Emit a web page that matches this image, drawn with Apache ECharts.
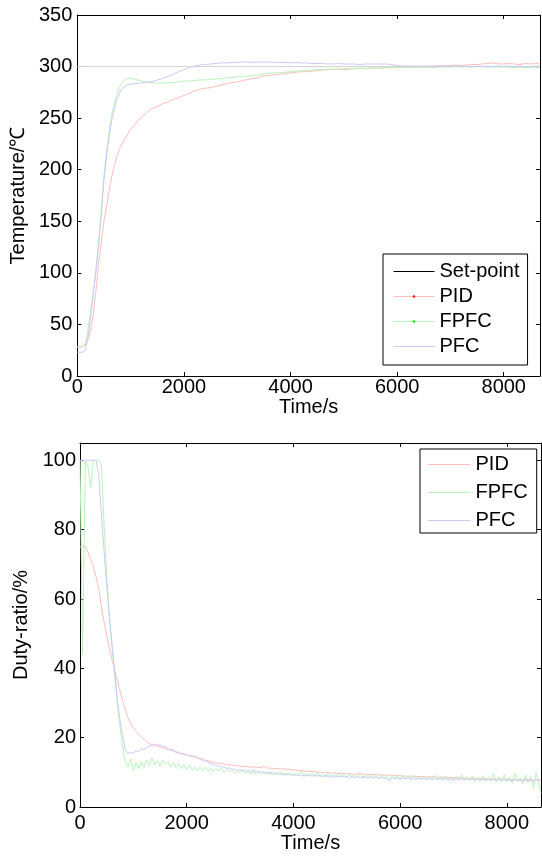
<!DOCTYPE html>
<html>
<head>
<meta charset="utf-8">
<script src="https://cdn.jsdelivr.net/npm/echarts@6/dist/echarts.min.js"></script>
<style>
html,body{margin:0;padding:0;background:#fff;}
#c{width:542px;height:857px;}
</style>
</head>
<body>
<div id="c"></div>
<script>
// ---------- Top plot: temperature (°C) vs time (s) ----------
const tTime = [0,50,100,150,200,250,300,350,400,450,500,550,600,650,700,750,800,850,900,950,1000,
1100,1200,1300,1400,1500,1600,1700,1800,1900,2000,
2100,2200,2300,2400,2500,2600,2700,2800,2900,3000,
3100,3200,3300,3400,3500,3600,3700,3800,3900,4000,
4100,4200,4300,4400,4500,4600,4700,4800,4900,5000,
5100,5200,5300,5400,5500,5600,5700,5800,5900,6000,
6100,6200,6300,6400,6500,6600,6700,6800,6900,7000,
7100,7200,7300,7400,7500,7600,7700,7800,7900,8000,
8100,8200,8300,8400,8500,8600,8680];
const setPointT = [300,300];
const setPointTime = [0,8680];
const pidT = [28,28,28.5,30,35,44,60,82,108,130,150,165,180,194,205,214,221,226,230,235,239,
245,251,255,259.5,261,264,265.5,268,270,272,
274,276.5,278,279,279.5,281,282,283.5,284.5,285,
286.5,287.5,288.5,289.5,291,291.5,292,292.5,293,294,
294.5,295,295,295.5,296,296.5,297,297,297.5,297,
297.5,298,298,298,298.5,298.5,298.5,299,299,299,
299.5,299,300,300,300.5,300,300.5,301,300.5,301,
301.5,301,301.5,302,302,302.5,303,303.5,302.5,302.5,
303,302.5,302,303,302.5,303,302.5];
const fpfcT = [28.5,28.5,29,31,45,62,82,103,130,160,194,218,238,254,265,274,281,285.5,287.5,288.5,289,
287.5,286,285,284.5,284,284,284.5,284.5,285,286,
286,286.5,287,287,287.5,288,288.5,289,289.5,290,
290.5,290.5,291.5,292,293,293.5,294,294,294.5,295,
295.5,296,296,296.5,297,297,297.5,297.5,297.5,298,
298,298,298.5,298,298.5,298.5,299,299,299,299,
299.5,299,299,299.5,299,299.5,299,299.5,299.5,299.5,
300,299.5,300,299.5,300,300,299.5,300,299.5,299.5,
299.5,299,299.5,299,299,299,299];
const pfcT = [23,23,23,25,38,57,78,101,127,156,190,213,233,249,260,269,275,279,281,282.5,283,
283.5,284,284.5,285.5,287,288.5,290.5,292.5,295,297,
299,300.5,301.5,302,302.5,303,303.5,303.5,304,304,
304.5,304.5,304,304.5,304,304.5,304,304,304,303.5,
304,303.5,303.5,303,303,303,302.5,302.5,303,302.5,
302.5,302.5,302,302.5,302.5,302.5,302.5,302.5,302,301,
300.5,300.5,300.5,300.5,300,300.5,300.5,300,300.5,300,
300.5,300,300.5,300,300.5,300,300.5,300,300.5,300,
300.5,300,300.5,300,300,300.5,300];

// ---------- Bottom plot: duty ratio (%) vs time (s) ----------
const bTime = [0,50,100,150,200,250,300,350,400,450,500,550,600,650,700,750,800,850,900,950,
1000,1050,1100,1150,1200,1250,1300,1350,1400,1450,1500,1550,1600,1650,1700,1750,1800,1850,1900,1950,
2000,2050,2100,2150,2200,2250,2300,2350,2400,2450,2500,2550,2600,2650,2700,2750,2800,2850,2900,2950,
3000,3050,3100,3150,3200,3250,3300,3350,3400,3450,3500,3550,3600,3650,3700,3750,3800,3850,3900,3950,
4000,4050,4100,4150,4200,4250,4300,4350,4400,4450,4500,4550,4600,4650,4700,4750,4800,4850,4900,4950,
5000,5050,5100,5150,5200,5250,5300,5350,5400,5450,5500,5550,5600,5650,5700,5750,5800,5850,5900,5950,
6000,6050,6100,6150,6200,6250,6300,6350,6400,6450,6500,6550,6600,6650,6700,6750,6800,6850,6900,6950,
7000,7050,7100,7150,7200,7250,7300,7350,7400,7450,7500,7550,7600,7650,7700,7750,7800,7850,7900,7950,
8000,8050,8100,8150,8200,8250,8300,8350,8400,8450,8500,8550,8640];
const pidD = [75,75.3,75,73.5,71.5,69.5,66.5,63,58,53.5,
49.5,46,42.5,39.5,36.5,33.5,30.5,28,25.8,24,
22.8,21.8,21,20.2,19.5,18.8,18.3,18,17.8,17.6,
17.4,17.1,16.9,16.6,16.4,16.1,15.8,15.6,15.4,15.2,
15,14.8,14.7,14.5,14.3,14.1,13.8,13.5,13.3,13.1,
12.9,12.7,12.6,12.5,12.4,12.3,12.2,12.1,12,11.9,
11.8,
11.7,11.7,11.6,11.6,11.5,11.5,11.4,11.4,11.8,
11.3,11.2,11.2,11.1,11.1,11,11,10.9,10.9,10.8,
10.7,10.6,10.5,10.5,10.4,10.3,10.3,10.2,10.2,10.1,
10,10,9.9,9.9,9.8,9.8,9.7,9.7,9.7,9.6,
9.6,9.6,9.5,9.5,9.5,9.8,9.5,9.4,9.4,9.4,
9.3,9.3,9.3,9.2,9.2,9.2,9.1,9.1,9.1,9,
9,9,8.9,8.9,8.9,8.8,8.8,8.8,8.8,8.7,
8.7,8.7,8.7,8.9,8.6,8.6,8.6,8.6,8.5,8.5,
8.5,8.5,8.4,8.4,8.4,8.4,8.3,8.3,8.3,8.3,
8.2,8.2,8.2,8.2,8.1,8.1,8.1,8.1,8.1,8,
8,8,8,8,7.9,7.9,7.9,7.9,7.9,7.8,
7.8,7.8,7.8];
const fpfcD = [100,44,100,98,92,100,100,100,99,82,
67,55,46,38,30,23,17,13,11.5,13.8,
10.5,12.8,11,13.2,11.5,13.5,12,14.2,12.2,13.4,
11.8,13.5,12.4,13,11.6,12.8,11.4,12.6,11,12.3,
10.8,12,10.6,11.6,10.4,11.4,10.5,11.6,10.3,11.2,
10.2,11,10.4,11.2,10,10.8,10.2,10.9,9.8,10.6,
9.9,
10.8,9.6,10.5,9.5,10.9,9.4,10.3,9.6,10.1,
9.3,10.4,9.2,10,9.4,10.2,9,9.9,9.3,10,
8.9,9.8,9.1,10.4,8.8,9.6,9,9.7,8.7,9.9,
8.8,9.5,8.6,10,8.7,9.4,8.5,9.6,8.8,9.3,
8.5,9.5,8.4,9.2,8.6,9.7,8.3,9.1,8.5,9.4,
8.3,9,8.2,9.3,8.4,8.8,8.1,9.2,8.3,8.9,
8,9.1,8.2,8.7,7.9,9.3,8.1,8.8,7.8,9,
8,8.7,7.8,9.2,8,8.6,7.7,8.9,7.9,8.5,
7.6,8.8,7.9,9.4,7.5,8.6,7.8,9,7.4,8.4,
7.7,9.1,7.3,8.5,7.8,9.6,7.2,8.7,7.5,9.3,
7.4,8.6,6.9,9.8,7.3,8.4,6.8,9.2,7,8.8,
5.5,9.9,4];
const pfcD = [100,100,100,100,100,100,100,96,85,74,
64,55,47,39,31,25,20.5,16.5,15.5,15.8,
15.5,16.2,16,16.8,16.5,17.2,17.8,17.5,18.2,17.8,
18,17.4,17.6,16.8,16.4,16.6,15.8,15.9,15.3,15.4,
14.8,15,14.4,14.6,14,13.8,13.2,13.4,12.8,12.6,
12.3,12,11.8,11.5,11.6,11.1,11.3,10.8,11,10.6,
10.8,
10.4,10.6,10.2,10.5,10,10.3,9.9,10.2,9.7,
10,9.6,9.9,9.5,9.8,9.4,9.7,9.2,9.6,9.1,
9.5,9.1,9.4,8.9,9.3,9,9.2,8.8,9.3,8.9,
9.1,8.7,9.2,8.8,9,8.5,9.1,8.6,8.9,8.7,
8.8,8.4,9,8.5,8.7,8.3,8.8,8.6,8.4,8.7,
8.3,8.7,8.2,8.6,8.4,8.1,7.6,8.5,8.2,8.4,
8,8.5,8.2,8.4,8,8.3,7.9,8.4,8.1,8.2,
7.9,8.3,8,8.2,7.8,8.3,8,8.1,7.8,8.2,
7.9,8.1,7.8,8.2,7.9,8,7.7,8.1,7.8,8,
7.6,8,7.8,7.9,7.6,8,7.7,7.9,7.5,7.9,
7.7,7.8,7.5,7.9,7.6,7.8,7.4,7.8,7.6,7.7,
7.4,7.8,7.6];

const xTicksTop = {min:0, max:8680, interval:2000};
const yTicksTop = {min:0, max:350, interval:50};
const xTicksBot = {min:0, max:8640, interval:2000};
const yTicksBot = {min:0, max:105, interval:20};

const FONT = "'Liberation Sans', Arial, Helvetica, sans-serif";
const C_PID = '#ffbcbc', C_FPFC = '#b8f4b8', C_PFC = '#cacafa', C_SET = '#d2d2d2';

const pair = (xs, ys) => xs.map((x, i) => [x, ys[i]]);

const axLine = {show:true, onZero:false, lineStyle:{color:'#000', width:1}};
const axTick = {show:true, inside:true, length:4, lineStyle:{color:'#000', width:1}};
const lbl = (margin, showMax) => ({show:true, fontSize:20, fontFamily:FONT, color:'#000', margin:margin,
  showMaxLabel:showMax, formatter:(v) => String(v)});
const nameStyle = {fontSize:20, fontFamily:FONT, color:'#000'};
const noLbl = {show:false};
const noSplit = {show:false};

const chart = echarts.init(document.getElementById('c'), null, {renderer:'canvas'});

const legendText = {fontSize:20, lineHeight:20, fontFamily:FONT, color:'#000'};

chart.setOption({
  animation:false,
  backgroundColor:'#fff',
  textStyle:{fontFamily:FONT, color:'#000'},
  grid:[
    {left:76, top:15, width:464, height:361},
    {left:80, top:443, width:461, height:364}
  ],
  xAxis:[
    Object.assign({gridIndex:0, type:'value', position:'bottom', axisLine:axLine, axisTick:axTick, axisLabel:lbl(1, false), splitLine:noSplit,
      name:'Time/s', nameLocation:'middle', nameGap:12, nameTextStyle:nameStyle}, xTicksTop),
    Object.assign({gridIndex:0, type:'value', position:'top', axisLine:axLine, axisTick:axTick, axisLabel:noLbl, splitLine:noSplit}, xTicksTop),
    Object.assign({gridIndex:1, type:'value', position:'bottom', axisLine:axLine, axisTick:axTick, axisLabel:lbl(6, false), splitLine:noSplit,
      name:'Time/s', nameLocation:'middle', nameGap:18, nameTextStyle:nameStyle}, xTicksBot),
    Object.assign({gridIndex:1, type:'value', position:'top', axisLine:axLine, axisTick:axTick, axisLabel:noLbl, splitLine:noSplit}, xTicksBot)
  ],
  yAxis:[
    Object.assign({gridIndex:0, type:'value', position:'left', axisLine:axLine, axisTick:axTick, axisLabel:lbl(5, true), splitLine:noSplit,
      name:'Temperature/℃', nameLocation:'middle', nameGap:49, nameTextStyle:nameStyle}, yTicksTop),
    Object.assign({gridIndex:0, type:'value', position:'right', axisLine:axLine, axisTick:axTick, axisLabel:noLbl, splitLine:noSplit}, yTicksTop),
    Object.assign({gridIndex:1, type:'value', position:'left', axisLine:axLine, axisTick:axTick, axisLabel:lbl(4, false), splitLine:noSplit,
      name:'Duty-ratio/%', nameLocation:'middle', nameGap:46, nameTextStyle:nameStyle}, yTicksBot),
    Object.assign({gridIndex:1, type:'value', position:'right', axisLine:axLine, axisTick:axTick, axisLabel:noLbl, splitLine:noSplit}, yTicksBot)
  ],
  legend:[
    {left:383, top:254, orient:'vertical', padding:[7.5,8,8.5,10], itemGap:5, itemWidth:41, itemHeight:3,
     borderColor:'#000', borderWidth:1, backgroundColor:'#fff', borderRadius:0, selectedMode:false, textStyle:legendText,
     data:[
       {name:'Set-point', itemStyle:{opacity:0}, lineStyle:{color:'#000', width:1}},
       {name:'PID', itemStyle:{color:'#ff0000', opacity:1}, lineStyle:{color:C_PID, width:1}},
       {name:'FPFC', itemStyle:{color:'#00e000', opacity:1}, lineStyle:{color:C_FPFC, width:1}},
       {name:'PFC', itemStyle:{opacity:0}, lineStyle:{color:C_PFC, width:1}}
     ]},
    {left:420, top:449, orient:'vertical', padding:[5.5,9,2.5,7], itemGap:8, itemWidth:43, itemHeight:3,
     borderColor:'#000', borderWidth:1, backgroundColor:'#fff', borderRadius:0, selectedMode:false, textStyle:legendText,
     data:[
       {name:'PID', itemStyle:{opacity:0}, lineStyle:{color:C_PID, width:1}},
       {name:'FPFC', itemStyle:{opacity:0}, lineStyle:{color:C_FPFC, width:1}},
       {name:'PFC', itemStyle:{opacity:0}, lineStyle:{color:C_PFC, width:1}}
     ]}
  ],
  series:[
    {name:'Set-point', type:'line', xAxisIndex:0, yAxisIndex:0, data:pair(setPointTime, setPointT), symbol:'circle', showSymbol:false,
     lineStyle:{color:C_SET, width:1}, itemStyle:{color:C_SET}, z:2},
    {name:'PID', type:'line', xAxisIndex:0, yAxisIndex:0, data:pair(tTime, pidT), symbol:'circle', showSymbol:false,
     lineStyle:{color:C_PID, width:1}, itemStyle:{color:C_PID}, z:3},
    {name:'FPFC', type:'line', xAxisIndex:0, yAxisIndex:0, data:pair(tTime, fpfcT), symbol:'circle', showSymbol:false,
     lineStyle:{color:C_FPFC, width:1}, itemStyle:{color:C_FPFC}, z:4},
    {name:'PFC', type:'line', xAxisIndex:0, yAxisIndex:0, data:pair(tTime, pfcT), symbol:'circle', showSymbol:false,
     lineStyle:{color:C_PFC, width:1}, itemStyle:{color:C_PFC}, z:5},
    {name:'PID', type:'line', xAxisIndex:2, yAxisIndex:2, data:pair(bTime, pidD), symbol:'circle', showSymbol:false,
     lineStyle:{color:C_PID, width:1}, itemStyle:{color:C_PID}, z:3},
    {name:'FPFC', type:'line', xAxisIndex:2, yAxisIndex:2, data:pair(bTime, fpfcD), symbol:'circle', showSymbol:false,
     lineStyle:{color:C_FPFC, width:1}, itemStyle:{color:C_FPFC}, z:4},
    {name:'PFC', type:'line', xAxisIndex:2, yAxisIndex:2, data:pair(bTime, pfcD), symbol:'circle', showSymbol:false,
     lineStyle:{color:C_PFC, width:1}, itemStyle:{color:C_PFC}, z:5}
  ]
});
</script>
</body>
</html>
